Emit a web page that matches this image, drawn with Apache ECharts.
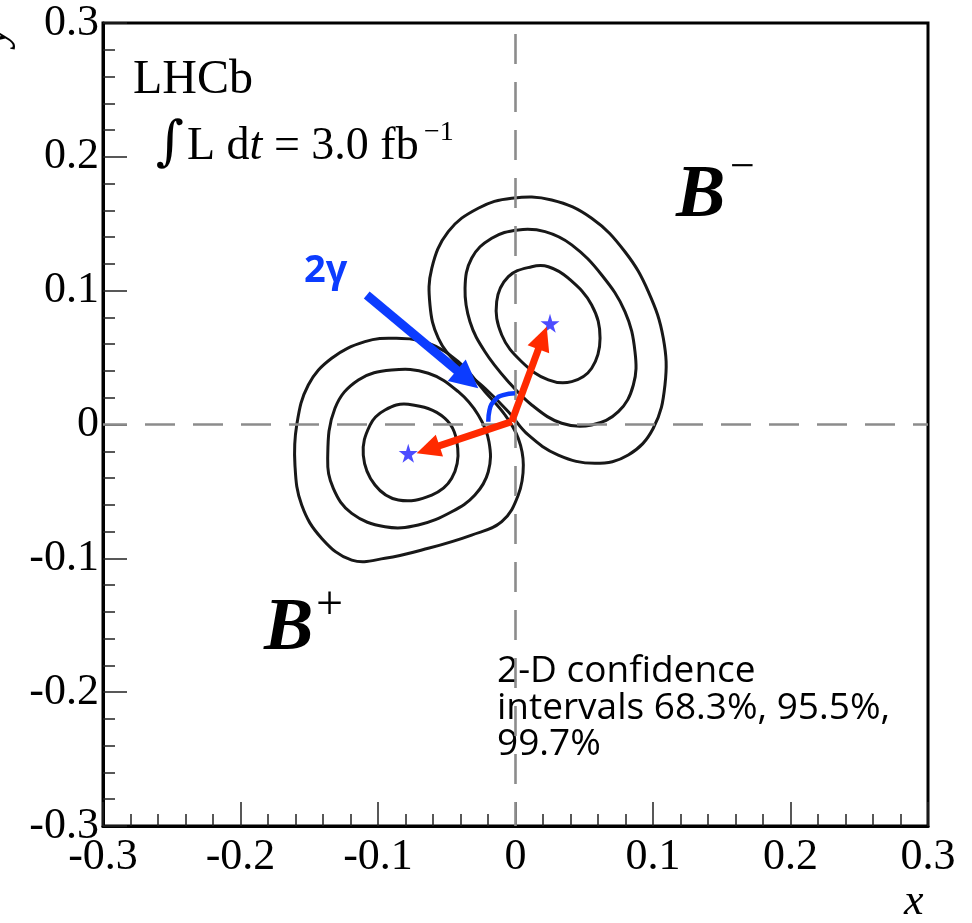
<!DOCTYPE html>
<html>
<head>
<meta charset="utf-8">
<script src="https://cdn.jsdelivr.net/npm/echarts@6/dist/echarts.min.js"></script>
<style>
  html, body { margin: 0; padding: 0; background: #ffffff; }
  #chart { width: 972px; height: 923px; }
</style>
</head>
<body>
<div id="chart"></div>
<script>
// Axis range and tick labels (x and y share them)
const tickValues = [-0.3, -0.2, -0.1, 0, 0.1, 0.2, 0.3];
const tickLabels = ['-0.3', '-0.2', '-0.1', '0', '0.1', '0.2', '0.3'];

// B+ confidence contours (68.3%, 95.5%, 99.7%), [x, y]
const bPlus683 = [
  [-0.0780, 0.0151], [-0.0513, 0.0046], [-0.0420, -0.0178], [-0.0464, -0.0402],
  [-0.0609, -0.0527], [-0.0852, -0.0564], [-0.1022, -0.0452], [-0.1107, -0.0228],
  [-0.1058, -0.0004], [-0.0949, 0.0108]
];
const bPlus955 = [
  [-0.1366, -0.0253], [-0.1313, 0.0121], [-0.1143, 0.0333], [-0.0900, 0.0407],
  [-0.0634, 0.0383], [-0.0416, 0.0245], [-0.0271, 0.0071], [-0.0193, -0.0129],
  [-0.0198, -0.0353], [-0.0295, -0.0527], [-0.0464, -0.0652], [-0.0707, -0.0751],
  [-0.0949, -0.0764], [-0.1191, -0.0664], [-0.1325, -0.0477]
];
const bPlus997 = [
  [-0.0876, 0.0644], [-0.1095, 0.0619], [-0.1337, 0.0495], [-0.1507, 0.0295],
  [-0.1591, -0.0004], [-0.1604, -0.0303], [-0.1555, -0.0602], [-0.1409, -0.0851],
  [-0.1191, -0.1013], [-0.0949, -0.1000], [-0.0634, -0.0925], [-0.0319, -0.0826],
  [-0.0100, -0.0726], [0.0020, -0.0527], [0.0057, -0.0303], [0.0020, -0.0103],
  [-0.0076, 0.0071], [-0.0222, 0.0245], [-0.0416, 0.0469], [-0.0634, 0.0607]
];

// B- confidence contours (68.3%, 95.5%, 99.7%), [x, y]
const bMinus683 = [
  [0.0118, 0.1179], [-0.0052, 0.1105], [-0.0137, 0.0918], [-0.0100, 0.0669],
  [0.0045, 0.0469], [0.0239, 0.0333], [0.0409, 0.0320], [0.0554, 0.0420],
  [0.0615, 0.0644], [0.0554, 0.0893], [0.0384, 0.1093], [0.0239, 0.1179]
];
const bMinus955 = [
  [0.0020, 0.1454], [-0.0173, 0.1392], [-0.0319, 0.1242], [-0.0367, 0.1018],
  [-0.0331, 0.0768], [-0.0222, 0.0544], [-0.0052, 0.0320], [0.0118, 0.0146],
  [0.0336, 0.0009], [0.0554, -0.0004], [0.0748, 0.0096], [0.0857, 0.0295],
  [0.0869, 0.0544], [0.0796, 0.0843], [0.0627, 0.1117], [0.0409, 0.1342],
  [0.0215, 0.1441]
];
const bMinus997 = [
  [-0.0028, 0.1691], [-0.0271, 0.1616], [-0.0489, 0.1441], [-0.0609, 0.1167],
  [-0.0622, 0.0893], [-0.0561, 0.0644], [-0.0416, 0.0445], [-0.0222, 0.0271],
  [-0.0052, 0.0096], [0.0093, -0.0078], [0.0311, -0.0228], [0.0578, -0.0290],
  [0.0820, -0.0228], [0.1002, -0.0028], [0.1087, 0.0295], [0.1075, 0.0644],
  [0.0966, 0.0993], [0.0796, 0.1291], [0.0554, 0.1541], [0.0263, 0.1678]
];

// Best-fit points
const bestFit = [[-0.0780, -0.0215], [0.0251, 0.0756]];

// Vectors from the origin towards the two best-fit points: [x0, y0, x1, y1]
const redArrows = [
  [-0.0028, 0.0021, -0.0719, -0.0215],
  [-0.0028, 0.0021, 0.0227, 0.0731]
];
// Pointer from the "2γ" label to the angle
const blueArrow = [[-0.1082, 0.0968, -0.0271, 0.0271]];
// Angle arc between the two vectors
const angleArc = [[-0.0198, 0.0021], [-0.0189, 0.0108], [-0.0149, 0.0183], [-0.0091, 0.0220], [-0.0004, 0.0233]];

const SERIF = '"Liberation Serif", "DejaVu Serif", serif';
const SANS = '"Open Sans", "Noto Sans", sans-serif';
const BLUE = '#0c3cff';
const RED = '#ff2a00';
const STAR = 'path://M50,0 L61,35 L98,35 L68,57 L79,91 L50,70 L21,91 L32,57 L2,35 L39,35 Z';

function contourSeries(name, points) {
  return {
    name: name,
    type: 'custom',
    coordinateSystem: 'cartesian2d',
    data: points,
    encode: { x: 0, y: 1 },
    silent: true,
    z: 3,
    renderItem: function (params, api) {
      if (params.dataIndex !== 0) return null;
      const pts = points.map(function (p) { return api.coord(p); });
      return {
        type: 'polygon',
        shape: { points: pts, smooth: 0.4 },
        style: { fill: 'none', stroke: '#181818', lineWidth: 3 }
      };
    }
  };
}

// Straight arrow with a triangular head whose tip sits on the end point
function arrowSeries(name, data, color, shaftWidth, headLen, headWidth) {
  return {
    name: name,
    type: 'custom',
    coordinateSystem: 'cartesian2d',
    data: data,
    encode: { x: [0, 2], y: [1, 3] },
    silent: true,
    z: 6,
    renderItem: function (params, api) {
      const a = api.coord([api.value(0), api.value(1)]);
      const b = api.coord([api.value(2), api.value(3)]);
      const dx = b[0] - a[0], dy = b[1] - a[1];
      const len = Math.sqrt(dx * dx + dy * dy);
      const ux = dx / len, uy = dy / len;
      const px = -uy, py = ux;
      const bx = b[0] - ux * headLen, by = b[1] - uy * headLen;
      return {
        type: 'group',
        children: [
          {
            type: 'line',
            shape: { x1: a[0], y1: a[1], x2: bx + ux * 2, y2: by + uy * 2 },
            style: { stroke: color, lineWidth: shaftWidth, lineCap: 'butt' }
          },
          {
            type: 'polygon',
            shape: {
              points: [
                [b[0], b[1]],
                [bx + px * headWidth / 2, by + py * headWidth / 2],
                [bx - px * headWidth / 2, by - py * headWidth / 2]
              ]
            },
            style: { fill: color }
          }
        ]
      };
    }
  };
}

function valueAxis(pos) {
  return {
    type: 'value',
    position: pos,
    min: -0.3,
    max: 0.3,
    interval: 0.1,
    splitLine: { show: false },
    axisLine: { show: true, onZero: false, lineStyle: { color: '#000', width: 3 } },
    axisTick: { show: true, inside: true, length: 24, lineStyle: { color: '#222', width: 1.5 } },
    minorTick: { show: true, splitNumber: 5, length: 12, lineStyle: { color: '#222', width: 1.5 } },
    axisLabel: {
      show: true,
      fontFamily: SERIF,
      fontSize: 44,
      color: '#000',
      margin: pos === 'left' ? 4 : 9,
      formatter: function (v) {
        const i = tickValues.findIndex(function (t) { return Math.abs(t - v) < 1e-9; });
        return i >= 0 ? tickLabels[i] : '';
      }
    }
  };
}

const chart = echarts.init(document.getElementById('chart'), null, { renderer: 'canvas' });

chart.setOption({
  animation: false,
  backgroundColor: '#ffffff',
  grid: {
    left: 103, right: 44, top: 23, bottom: 97,
    show: true, borderColor: '#000', borderWidth: 3, backgroundColor: 'transparent'
  },
  xAxis: valueAxis('bottom'),
  yAxis: valueAxis('left'),
  series: [
    {
      name: 'zero lines',
      type: 'line',
      data: [],
      silent: true,
      z: 1,
      markLine: {
        silent: true,
        symbol: 'none',
        label: { show: false },
        lineStyle: { color: '#8c8c8c', width: 2.6, type: [30, 18], dashOffset: 6 },
        data: [{ xAxis: 0 }, { yAxis: 0 }]
      }
    },
    contourSeries('B+ 68.3%', bPlus683),
    contourSeries('B+ 95.5%', bPlus955),
    contourSeries('B+ 99.7%', bPlus997),
    contourSeries('B- 68.3%', bMinus683),
    contourSeries('B- 95.5%', bMinus955),
    contourSeries('B- 99.7%', bMinus997),
    {
      name: 'best fit',
      type: 'scatter',
      data: bestFit,
      symbol: STAR,
      symbolSize: 19,
      itemStyle: { color: '#1f1fff' },
      silent: true,
      z: 4
    },
    {
      name: 'angle',
      type: 'line',
      data: angleArc,
      smooth: 0.5,
      showSymbol: false,
      silent: true,
      lineStyle: { color: BLUE, width: 4.5 },
      z: 5
    },
    arrowSeries('vectors', redArrows, RED, 7, 24, 23),
    arrowSeries('pointer', blueArrow, BLUE, 9, 28, 28)
  ],
  graphic: [
    { type: 'text', left: 133, top: 56, style: { text: 'LHCb', font: '48px ' + SERIF, fill: '#000' } },
    { type: 'text', left: 156, top: 118, style: { text: '∫', font: '54px "DejaVu Serif", serif', fill: '#000' } },
    {
      type: 'text', left: 187, top: 124,
      style: {
        text: '{a|L d}{b|t}{a| = 3.0 fb}',
        fill: '#000',
        rich: {
          a: { font: '46px ' + SERIF, fill: '#000' },
          b: { font: 'italic 46px ' + SERIF, fill: '#000' }
        }
      }
    },
    { type: 'text', left: 424, top: 119, style: { text: '−1', font: '28px ' + SERIF, fill: '#000' } },
    { type: 'text', left: 676, top: 160, style: { text: 'B', font: 'italic bold 74px ' + SERIF, fill: '#000' } },
    { type: 'text', left: 730, top: 146, style: { text: '−', font: '44px ' + SERIF, fill: '#000' } },
    { type: 'text', left: 264, top: 593, style: { text: 'B', font: 'italic bold 74px ' + SERIF, fill: '#000' } },
    { type: 'text', left: 316, top: 582, style: { text: '+', font: '48px ' + SERIF, fill: '#000' } },
    { type: 'text', left: 304, top: 252, style: { text: '2γ', font: 'bold 38px ' + SANS, fill: BLUE } },
    {
      type: 'text', left: 497, top: 653,
      style: {
        text: '2-D confidence\nintervals 68.3%, 95.5%,\n99.7%',
        font: '37px ' + SANS, lineHeight: 36.7, fill: '#000'
      }
    },
    { type: 'text', left: 904, top: 880, style: { text: 'x', font: 'italic 44px ' + SERIF, fill: '#000' } },
    {
      type: 'text', x: -6, y: 36, rotation: Math.PI / 2,
      style: { text: 'y', font: 'italic 44px ' + SERIF, fill: '#000', align: 'center', verticalAlign: 'middle' }
    }
  ]
});
</script>
</body>
</html>
